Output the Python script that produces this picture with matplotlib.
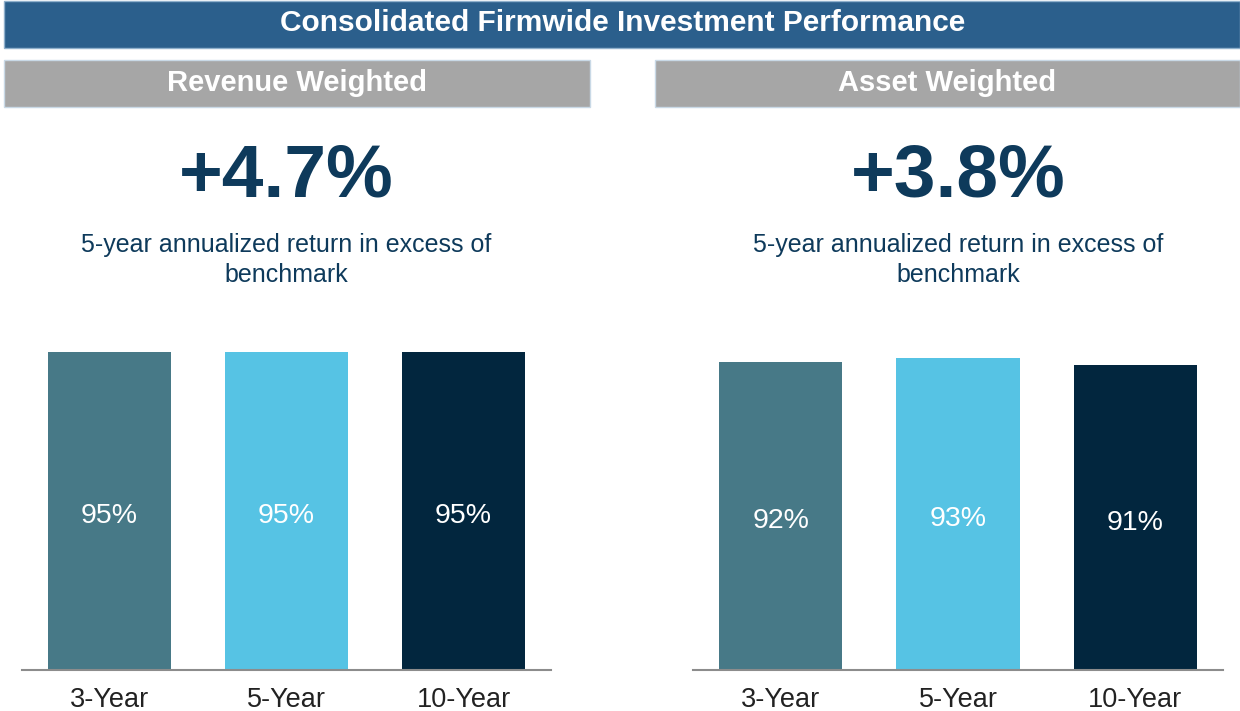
import matplotlib.pyplot as plt
from matplotlib.patches import Rectangle

plt.rcParams['font.family'] = ['Liberation Sans', 'DejaVu Sans']

periods = ['3-Year', '5-Year', '10-Year']
revenue_pct = [95, 95, 95]
asset_pct = [92, 93, 91]
headline = ['+4.7%', '+3.8%']
panel_titles = ['Revenue Weighted', 'Asset Weighted']
subtitle = '5-year annualized return in excess of\nbenchmark'
title = 'Consolidated Firmwide Investment Performance'

bar_colors = ['#477987', '#56c3e4', '#02263e']
navy = '#0e3a5b'

W, H = 1240, 711
fig = plt.figure(figsize=(W / 100, H / 100), dpi=100)


def px_rect(x0, y0, x1, y1, color, edge=None):
    # y in pixels from the top
    fig.patches.append(Rectangle((x0 / W, 1 - y1 / H), (x1 - x0) / W, (y1 - y0) / H,
                                 transform=fig.transFigure, facecolor=color,
                                 edgecolor=edge or color, lw=1, zorder=0))


px_rect(4, 1, 1240, 48, '#2b5f8c', '#8fb0cc')
fig.text(623 / W, 1 - 23 / H, title, color='white', fontsize=21.5, fontweight='bold',
         ha='center', va='center')

panels = [
    dict(x0=4, x1=590, ax_x=(22, 551), vals=revenue_pct),
    dict(x0=655, x1=1240, ax_x=(693, 1223), vals=asset_pct),
]

for i, p in enumerate(panels):
    px_rect(p['x0'], 60, p['x1'], 107, '#a6a6a6', '#c9d9e6')
    cx = (p['x0'] + p['x1']) / 2
    fig.text(cx / W, 1 - 83 / H, panel_titles[i], color='white', fontsize=21,
             fontweight='bold', ha='center', va='center')

    x0, x1 = p['ax_x']
    mid = (x0 + x1) / 2
    fig.text(mid / W, 1 - 177 / H, headline[i], color=navy, fontsize=54,
             fontweight='bold', ha='center', va='center')
    fig.text(mid / W, 1 - 260 / H, subtitle, color=navy, fontsize=18,
             ha='center', va='center', linespacing=1.32)

    base, top = 670, 335
    ax = fig.add_axes([x0 / W, 1 - base / H, (x1 - x0) / W, top / H])
    xs = range(len(periods))
    bars = ax.bar(xs, p['vals'], width=0.695, color=bar_colors)
    for b, v in zip(bars, p['vals']):
        ax.text(b.get_x() + b.get_width() / 2, v / 2 - 1.5, f'{v}%', color='white',
                fontsize=20.5, ha='center', va='center')
    ax.set_xlim(-0.494, 2.494)
    ax.set_ylim(0, 100)
    ax.set_xticks(list(xs))
    ax.set_xticklabels(periods, fontsize=19.5, color='#222222')
    ax.tick_params(axis='x', length=0, pad=12)
    ax.set_yticks([])
    for s in ['top', 'right', 'left']:
        ax.spines[s].set_visible(False)
    ax.spines['bottom'].set_color('#8c8c8c')
    ax.spines['bottom'].set_linewidth(1.5)
    ax.patch.set_alpha(0)

fig.savefig('out.png', dpi=100)
